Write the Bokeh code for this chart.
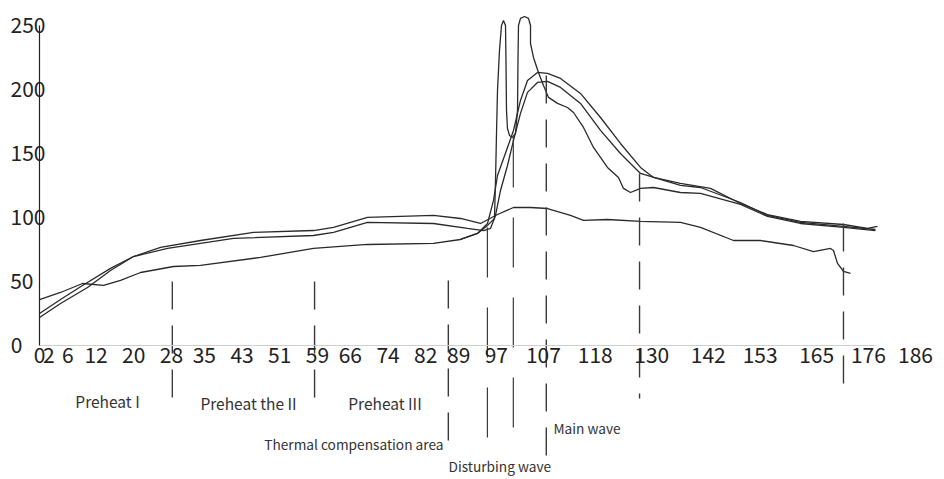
from bokeh.plotting import figure
from bokeh.models import LinearAxis, FixedTicker, Range1d
from bokeh.core.properties import value
from bokeh.embed import file_html
from bokeh.resources import INLINE

# ---------------- data ----------------
x_ticks = [0, 2, 6, 12, 20, 28, 35, 43, 51, 59, 66, 74, 82, 89, 97, 107, 118, 130, 142, 153, 165, 176, 186]
y_ticks = [0, 50, 100, 150, 200, 250]

# curve with the low (~107) peak
t1 = [0, 4.46, 9.13, 15.07, 19.96, 25.69, 34.18, 45.44, 58.17, 62.42, 69.64, 83.65, 89.38, 93.63,
      97.24, 100.64, 104.25, 107.86, 112.74, 115.5, 120.59, 127.6, 136.09, 140.34, 147.35, 153.08,
      160.08, 164.33, 167.94, 168.58, 169.43, 170.7, 172.19]
v1 = [25.0, 35.9, 46.9, 60.2, 69.5, 76.6, 82.0, 88.3, 89.8, 92.2, 100.0, 101.6, 99.2, 95.3,
      102.3, 107.8, 107.8, 107.0, 101.6, 97.7, 98.4, 96.9, 96.1, 92.2, 82.0, 82.0,
      78.1, 73.4, 75.8, 74.2, 64.1, 57.8, 56.3]

# main-wave curve (second)
t2 = [0, 4.46, 10.19, 15.07, 19.96, 27.18, 41.19, 58.17, 62.42, 69.64, 83.65, 90.87, 94.27, 95.75,
      96.82, 97.88, 99.36, 100.64, 102.12, 103.61, 105.73, 107.86, 110.62, 114.86, 119.11, 123.35,
      127.6, 136.09, 140.34, 148.83, 154.56, 161.57, 170.7, 177.49]
v2 = [21.9, 32.8, 45.3, 58.6, 69.5, 75.8, 83.6, 85.9, 88.3, 96.1, 95.3, 91.4, 89.8, 91.4,
      101.6, 121.1, 140.6, 160.2, 181.3, 197.7, 205.5, 206.3, 201.6, 189.1, 168.0, 150.0,
      134.4, 125.0, 123.4, 111.7, 101.6, 96.1, 93.0, 90.6]

# main-wave curve (highest)
t3 = [0, 4.46, 9.13, 13.59, 17.2, 21.44, 28.45, 34.18, 46.92, 58.17, 69.64, 83.65, 89.38, 92.99,
      95.12, 96.39, 97.24, 99.36, 100.64, 102.12, 103.61, 105.73, 107.86, 110.62, 114.86, 119.11,
      123.35, 127.6, 130.36, 136.09, 142.46, 148.83, 154.56, 161.57, 170.7, 175.8, 177.92]
v3 = [35.9, 41.4, 48.4, 46.9, 50.8, 57.0, 61.7, 62.5, 68.8, 75.8, 78.9, 79.7, 82.8, 87.5,
      95.3, 113.3, 132.8, 154.7, 168.0, 191.4, 207.0, 213.3, 212.5, 208.6, 196.9, 178.1,
      157.8, 139.1, 131.3, 126.6, 122.7, 110.9, 102.3, 96.9, 94.5, 91.4, 93.0]

# curve with the two disturbing-wave spikes
t4 = [89.38, 92.99, 95.12, 96.6, 96.82, 97.03, 97.24, 97.66, 98.09, 98.51, 98.94, 99.04, 99.15,
      99.36, 99.79, 100.42, 101.06, 101.49, 101.59, 101.7, 102.12, 102.97, 103.82, 104.25, 104.25,
      104.88, 105.94, 107.01, 108.07, 109.98, 112.1, 113.38, 115.5, 117.62, 120.59, 122.93, 123.99,
      125.48, 127.6, 130.36, 136.09, 140.34, 148.83, 154.56, 161.57, 170.7, 177.49]
v4 = [82.8, 87.5, 93.8, 99.2, 128.9, 165.6, 199.2, 230.5, 250.0, 253.9, 250.0, 222.7, 183.6,
      169.5, 164.1, 162.5, 165.6, 183.6, 222.7, 250.0, 255.5, 257.0, 255.5, 250.0, 235.9,
      225.0, 213.3, 203.1, 193.8, 189.1, 185.9, 182.0, 170.3, 154.7, 139.1, 131.3, 122.7,
      119.5, 122.7, 123.4, 119.5, 118.8, 110.2, 100.8, 95.3, 92.2, 89.8]

# zone boundaries (time) and the vertical extent of each boundary line
zone_x = [28.2, 58.4, 86.8, 95.1, 100.6, 107.6, 127.4, 170.7]
zone_top = [50.0, 50.0, 50.8, 92.2, 162.5, 210.9, 134.4, 95.3]
zone_bottom = [-41.4, -41.4, -85.9, -85.9, -85.9, -85.9, -41.4, -41.4]

zone_names = ["Preheat I", "Preheat the II", "Preheat III",
              "Thermal compensation area", "Main wave", "Disturbing wave"]
name_x = [14.44, 44.37, 73.35, 85.77, 109.13, 86.84]
name_y = [-43.0, -45.3, -45.3, -76.6, -64.8, -94.5]

baseline_end = 177.5

# ---------------- figure ----------------
FONT = "Noto Sans CJK SC"
INK = "#2a2a2a"

p = figure(width=942, height=479, x_range=Range1d(-7.86, 191.3), y_range=Range1d(-104.7, 260.9),
           output_backend="svg", toolbar_location=None,
           min_border_left=2, min_border_right=2, min_border_top=11, min_border_bottom=0)
p.grid.visible = False
p.outline_line_color = None
p.background_fill_color = "white"

for t, v in [(t1, v1), (t2, v2), (t3, v3), (t4, v4)]:
    p.line(t, v, line_color=INK, line_width=1.3)

dashed = [0, 1, 2, 5, 6, 7]
longdash = [3, 4]
p.segment(x0=[zone_x[i] for i in dashed], y0=[zone_top[i] for i in dashed],
          x1=[zone_x[i] for i in dashed], y1=[zone_bottom[i] for i in dashed],
          line_color="#3a3a3a", line_width=1.4, line_dash="28 16")
p.segment(x0=[zone_x[i] for i in longdash], y0=[zone_top[i] for i in longdash],
          x1=[zone_x[i] for i in longdash], y1=[zone_bottom[i] for i in longdash],
          line_color="#3a3a3a", line_width=1.2, line_dash="50 30")

p.text(x=name_x[:3], y=name_y[:3], text=zone_names[:3], text_font=value(FONT),
       text_font_size="15.5px", text_align="center", text_baseline="middle", text_color="#333333")
p.text(x=[name_x[3]], y=[name_y[3]], text=[zone_names[3]], text_font=value(FONT),
       text_font_size="13.7px", text_align="right", text_baseline="middle", text_color="#333333")
p.text(x=name_x[4:], y=name_y[4:], text=zone_names[4:], text_font=value(FONT),
       text_font_size="13.7px", text_align="left", text_baseline="middle", text_color="#333333")


def no_ticks(ax):
    ax.major_tick_out = 0
    ax.major_tick_in = 0
    ax.minor_tick_out = 0
    ax.minor_tick_in = 0
    ax.major_tick_line_color = None
    ax.minor_tick_line_color = None


# x axis: labels at y = 0
xa = p.xaxis[0]
xa.fixed_location = 0
xa.ticker = FixedTicker(ticks=x_ticks)
xa.axis_line_color = None
no_ticks(xa)
xa.major_label_text_font = FONT
xa.major_label_text_font_size = "21px"
xa.major_label_text_color = "#222222"
xa.major_label_standoff = 2

base = LinearAxis(fixed_location=0, bounds=(0, baseline_end), ticker=FixedTicker(ticks=[]),
                  axis_line_color="#cfcfcf", axis_line_width=1,
                  major_label_text_font_size="0px")
no_ticks(base)
p.add_layout(base, "below")

# y axis at x = 0; labels grouped by width so they start at the same left edge
ya = p.yaxis[0]
ya.fixed_location = 0
ya.bounds = (0, 250)
ya.ticker = FixedTicker(ticks=[t for t in y_ticks if t >= 100])
ya.axis_line_color = "#222222"
ya.axis_line_width = 1.2
no_ticks(ya)
ya.major_label_text_font = FONT
ya.major_label_text_font_size = "21px"
ya.major_label_text_color = "#222222"
ya.major_label_standoff = -6

for ticks, standoff in [([t for t in y_ticks if 10 <= t < 100], 6), ([t for t in y_ticks if t < 10], 17)]:
    ax = LinearAxis(fixed_location=0, ticker=FixedTicker(ticks=ticks), axis_line_color=None,
                    major_label_text_font=FONT, major_label_text_font_size="21px",
                    major_label_text_color="#222222", major_label_standoff=standoff)
    no_ticks(ax)
    p.add_layout(ax, "left")

open("out.html", "w").write(file_html(p, INLINE))
